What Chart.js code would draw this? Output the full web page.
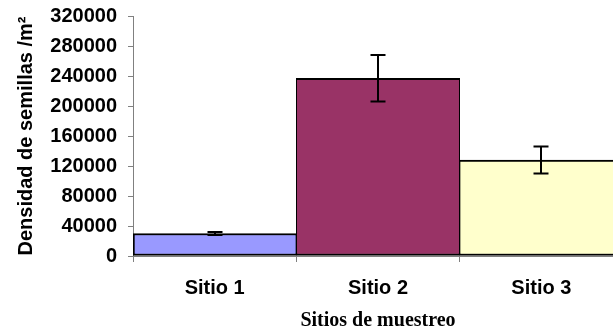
<!DOCTYPE html>
<html>
<head>
<meta charset="utf-8">
<script src="https://cdn.jsdelivr.net/npm/chart.js@4/dist/chart.umd.min.js"></script>
<style>
  html, body { margin: 0; padding: 0; background: #fff; }
  #wrap { width: 613px; height: 333px; overflow: hidden; position: relative; }
  canvas { display: block; }
</style>
</head>
<body>
<div id="wrap"><canvas id="c" width="630" height="333"></canvas></div>
<script>
// Seed density per sampling site (seeds / m²) with error bars
const sitios = ['Sitio 1', 'Sitio 2', 'Sitio 3'];
const densidad = [30000, 237000, 128000];
const errorDensidad = [2000, 31000, 18000];
const colores = ['#9999FF', '#993366', '#FFFFCC'];
const yTicks = [0, 40000, 80000, 120000, 160000, 200000, 240000, 280000, 320000];

// Draws vertical error bars with caps, positioned by the chart's scales
const errorBars = {
  id: 'errorBars',
  afterDatasetsDraw(chart) {
    const ctx = chart.ctx;
    const meta = chart.getDatasetMeta(0);
    const y = chart.scales.y;
    ctx.save();
    ctx.strokeStyle = '#000';
    ctx.lineWidth = 2;
    meta.data.forEach((bar, i) => {
      const v = densidad[i], e = errorDensidad[i];
      const yTop = y.getPixelForValue(v + e);
      const yBot = y.getPixelForValue(v - e);
      const x = Math.round(bar.x);
      const cap = 7.5;
      ctx.beginPath();
      ctx.moveTo(x, yTop); ctx.lineTo(x, yBot);
      ctx.moveTo(x - cap, yTop); ctx.lineTo(x + cap, yTop);
      ctx.moveTo(x - cap, yBot); ctx.lineTo(x + cap, yBot);
      ctx.stroke();
    });
    ctx.restore();
  }
};

Chart.defaults.font.family = '"Liberation Sans", Arial, sans-serif';
Chart.defaults.color = '#000';

new Chart(document.getElementById('c'), {
  type: 'bar',
  data: {
    labels: sitios,
    datasets: [{
      data: densidad,
      backgroundColor: colores,
      borderColor: '#000',
      // shared edges between adjacent bars stay one line thick
      borderWidth: (ctx) => ctx.dataIndex === 0
        ? { top: 2, bottom: 2, left: 2, right: 1 }
        : { top: 2, bottom: 2, left: 1, right: 1 },
      borderSkipped: false,
      barPercentage: 1,
      categoryPercentage: 1
    }]
  },
  options: {
    responsive: false,
    animation: false,
    events: [],
    layout: { padding: { top: 16, right: 7, left: 0, bottom: 0 } },
    plugins: { legend: { display: false }, tooltip: { enabled: false } },
    scales: {
      x: {
        offset: true,
        grid: { display: true, drawOnChartArea: false, offset: true, tickLength: 6, color: '#808080' },
        border: { color: '#808080', width: 1 },
        ticks: { font: { size: 20, weight: 'bold' }, padding: 14, maxRotation: 0 },
        title: {
          display: true,
          text: 'Sitios de muestreo',
          font: { family: '"Liberation Serif", "Times New Roman", serif', size: 20, weight: 'bold' },
          padding: { top: 0, bottom: 0 }
        },
        afterFit(scale) { scale.height = 77; }
      },
      y: {
        min: 0,
        max: 320000,
        afterBuildTicks(scale) { scale.ticks = yTicks.map(v => ({ value: v })); },
        grid: { display: true, drawOnChartArea: false, tickLength: 5, color: '#808080' },
        border: { color: '#808080', width: 1 },
        ticks: {
          font: { size: 20, weight: 'bold' },
          padding: 11,
          callback: (v) => String(v)
        },
        title: {
          display: true,
          text: 'Densidad de semillas /m²',
          font: { size: 20, weight: 'bold' },
          padding: { top: 14, bottom: 0 }
        },
        afterFit(scale) {
          scale.width = 133;
          // the plot top comes from the layout padding alone
          scale.paddingTop = 0;
          scale.paddingBottom = 0;
        }
      }
    }
  },
  plugins: [errorBars]
});
</script>
</body>
</html>
